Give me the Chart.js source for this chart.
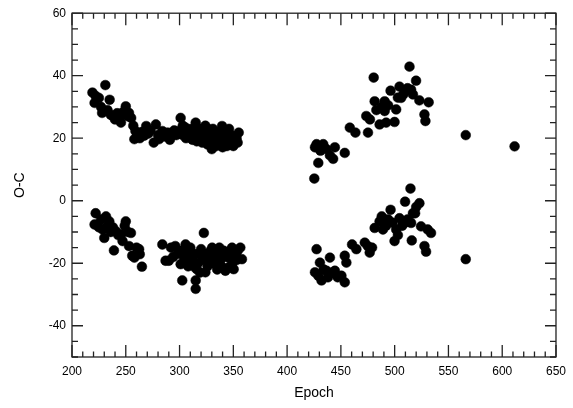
<!DOCTYPE html>
<html>
<head>
<meta charset="utf-8">
<title>O-C</title>
<script src="https://cdn.jsdelivr.net/npm/chart.js@4/dist/chart.umd.min.js"></script>
<style>
    html, body { margin: 0; padding: 0; background: #fff; }
    #wrap { width: 573px; height: 408px; position: relative; }
</style>
</head>
<body>
<div id="wrap"><canvas id="ocChart"></canvas></div>
<script>
// upper branch, first season
var upper1Epoch = [219, 221, 222, 225, 227, 228, 231, 233, 235, 236, 238, 240, 242, 244, 245.5, 248, 250, 252, 253, 255,
    257, 258, 259, 261, 263, 265, 267, 269, 271, 273, 276, 278, 280, 281, 284, 287, 289, 291, 293, 295,
    297, 299, 301, 303, 305.6, 307, 309, 311, 313, 315, 316, 318, 319, 321, 323, 325, 327, 329, 330, 332,
    333, 335, 337, 339.5, 340, 341, 343, 345, 347, 349, 351, 354, 355,
    303, 306, 310, 312, 314, 317, 320, 322, 324, 326, 328, 331, 334, 336, 338, 342, 344, 346, 348, 350, 353];
var upper1OC = [34.6, 31.3, 33.5, 32.9, 30, 28.1, 37, 29, 32.3, 27.5, 27.1, 26, 28, 26.5, 25, 28.5, 30.2, 27, 28.1, 26.5,
    24, 19.7, 22.3, 21, 20, 22, 20.8, 23.9, 21.5, 22.5, 18.6, 24.4, 21, 19.7, 22.3, 20.5, 21.8, 19.5, 20.8, 22.5,
    21, 22.3, 26.5, 24, 23.4, 22, 20.5, 23, 21, 25, 19, 20.8, 23, 18.6, 21.5, 20, 22.8, 19, 16.5, 21,
    19.7, 22, 18, 23.9, 17.1, 20.8, 19, 21.5, 19.7, 18, 20.5, 18.6, 21.8,
    21, 20, 22, 19.5, 23, 22, 21, 19, 24, 18, 21, 23, 17.5, 20, 21, 22, 17.5, 23, 21, 17.5, 20];

// lower branch, first season
var lower1Epoch = [221, 222, 225, 227, 228.5, 230, 231.6, 233, 234.7, 236, 238, 239, 241, 243, 245.5, 247, 249, 250, 252, 253,
    254.8, 256, 258, 260, 262.4, 263, 265, 284, 287, 290, 296, 298, 300, 301, 302.5, 304, 305.6, 307, 309, 311,
    313, 315, 315, 316, 318, 320, 321, 322.6, 324, 325, 327, 329, 330.3, 332, 334, 336, 338, 340, 342.6, 344,
    345.7, 347, 348.8, 350.3, 352, 354, 356.5, 358,
    292, 294, 303, 306, 308, 310, 312, 314, 317, 319, 323, 326, 328, 331, 333, 335, 337, 339, 341, 346, 349, 353];
var lower1OC = [-7.6, -4, -8.5, -6, -9.2, -11.9, -5, -8, -6.6, -10, -8.5, -15.9, -9.8, -11, -10.8, -12.9, -8, -6.6, -10, -14.5,
    -10.3, -17.6, -18.2, -15, -15.5, -17.1, -21.1, -14, -19.2, -19.2, -14.5, -17, -16, -20.3, -25.5, -18, -14, -16.5, -19, -17,
    -21, -25.5, -28.2, -21.9, -17, -15.5, -19, -10.3, -22.9, -17, -19.5, -16, -15, -18, -20, -16.5, -19, -17, -22.4, -18,
    -21.3, -16, -15, -21.9, -18, -16, -15, -18.7,
    -15, -18, -16, -18.5, -21, -15, -19, -17, -20, -23, -17.5, -21, -18, -20, -17, -22, -15, -21, -16, -18, -20, -19];

// upper branch, second season
var upper2Epoch = [425.3, 425.9, 427.4, 429, 431, 433.6, 436.6, 439.8, 442.8, 444.4, 453.6, 458.3, 463.5, 473.6, 475.2, 477, 480.5, 481.4, 483, 486,
    488, 490.7, 490.7, 492.1, 494, 496.2, 499.9, 501.4, 503, 504.5, 506, 508, 510, 512, 513.8, 515.3, 517, 519.9, 523, 527.7,
    528.6, 531.6, 566.1, 611.5];
var upper2OC = [7.1, 17.1, 18.1, 12.1, 16, 18.1, 16.5, 14.5, 13.4, 17.1, 15.3, 23.4, 21.8, 27.1, 21.8, 26, 39.4, 31.8, 29, 24.4,
    30, 31.8, 28.7, 25, 30.5, 35.2, 25.2, 29.2, 33, 36.5, 32.9, 34, 35, 36, 42.9, 35.5, 34, 38.4, 32.1, 27.6,
    25.5, 31.5, 21, 17.4];

// lower branch, second season
var lower2Epoch = [425.9, 427.4, 429, 430.5, 432, 434, 436.6, 438, 439.8, 442, 444.4, 447, 450.5, 453.6, 453.6, 455.1, 460.4, 464.4, 472.2, 475,
    476.8, 479, 481.4, 486, 488, 489.1, 492, 494, 496.2, 498, 499.9, 501.4, 503, 504.5, 507, 509.1, 509.7, 512, 514.7, 515.3,
    515.9, 517, 519, 520, 523, 524.5, 527.7, 529.2, 530.7, 533.8, 566.1];
var lower2OC = [-22.9, -15.5, -24, -19.8, -25.5, -22, -22.4, -24.5, -18.2, -23, -22.4, -24.5, -24, -26.1, -17.6, -19.8, -14, -15.5, -13.4, -14.5,
    -16.6, -15, -8.7, -6.6, -5, -9.2, -8, -6, -2.9, -7, -12.9, -9.2, -11, -5.6, -8, -7.1, -0.3, -6, 3.9, -7.1,
    -12.7, -4, -4, -2, -0.8, -8.2, -14.5, -16.3, -9.2, -10.3, -18.7];

// axis ticks
var xTicks = [200, 250, 300, 350, 400, 450, 500, 550, 600, 650];
var yTicks = [-40, -20, 0, 20, 40, 60];
var xMinorStep = 10;
var yMinorStep = 5;

function toPoints(ep, oc) {
    var pts = [];
    for (var i = 0; i < ep.length; i++) {
        pts.push({x: ep[i], y: oc[i]});
    }
    return pts;
}

var allPoints = toPoints(upper1Epoch, upper1OC)
    .concat(toPoints(lower1Epoch, lower1OC))
    .concat(toPoints(upper2Epoch, upper2OC))
    .concat(toPoints(lower2Epoch, lower2OC));

// box round the plot with inward ticks on all four sides
var frameTicks = {
    id: 'frameTicks',
    afterDraw: function(chart) {
        var ctx = chart.ctx;
        var a = chart.chartArea;
        var xs = chart.scales.x;
        var ys = chart.scales.y;
        var v, px, py, len;

        ctx.save();
        ctx.strokeStyle = '#222';
        ctx.lineWidth = 1.3;
        ctx.strokeRect(a.left, a.top, a.right - a.left, a.bottom - a.top);

        ctx.beginPath();
        for (v = xs.min; v <= xs.max + 0.001; v += xMinorStep) {
            px = xs.getPixelForValue(v);
            len = xTicks.indexOf(v) >= 0 ? 12 : 5.5;
            ctx.moveTo(px, a.bottom); ctx.lineTo(px, a.bottom - len);
            ctx.moveTo(px, a.top); ctx.lineTo(px, a.top + len);
        }
        for (v = ys.min; v <= ys.max + 0.001; v += yMinorStep) {
            py = ys.getPixelForValue(v);
            len = yTicks.indexOf(v) >= 0 ? 11 : 6;
            ctx.moveTo(a.left, py); ctx.lineTo(a.left + len, py);
            ctx.moveTo(a.right, py); ctx.lineTo(a.right - len, py);
        }
        ctx.stroke();
        ctx.restore();
    }
};

var ctx1 = document.getElementById('ocChart');
var ocChart = new Chart(ctx1, {
    type: 'scatter',
    data: {
        datasets: [{
            label: 'O-C',
            data: allPoints,
            backgroundColor: '#000',
            borderColor: '#000',
            borderWidth: 0.5,
            pointRadius: 4.9,
            pointHoverRadius: 4.9
        }]
    },
    options: {
        responsive: true,
        maintainAspectRatio: false,
        animation: false,
        layout: {
            padding: {top: 9, right: 14, bottom: 0, left: 0}
        },
        plugins: {
            legend: { display: false },
            tooltip: { enabled: false }
        },
        scales: {
            x: {
                type: 'linear',
                min: 200,
                max: 650,
                afterBuildTicks: function(scale) {
                    scale.ticks = xTicks.map(function(t) { return {value: t}; });
                },
                afterFit: function(scale) { scale.height = 51; },
                grid: { display: false, drawTicks: false },
                border: { display: false },
                ticks: {
                    color: '#000',
                    padding: 7,
                    maxRotation: 0,
                    font: { family: 'Liberation Sans, Arial, sans-serif', size: 12 }
                },
                title: {
                    display: true,
                    text: 'Epoch',
                    color: '#000',
                    padding: {top: 0, bottom: 6},
                    font: { family: 'Liberation Sans, Arial, sans-serif', size: 14 }
                }
            },
            y: {
                type: 'linear',
                min: -50,
                max: 60,
                afterBuildTicks: function(scale) {
                    scale.ticks = yTicks.map(function(t) { return {value: t}; });
                },
                afterFit: function(scale) { scale.width = 72; },
                grid: { display: false, drawTicks: false },
                border: { display: false },
                ticks: {
                    color: '#000',
                    padding: 6,
                    font: { family: 'Liberation Sans, Arial, sans-serif', size: 12 }
                },
                title: {
                    display: true,
                    text: 'O-C',
                    color: '#000',
                    padding: {top: 12, bottom: 0},
                    font: { family: 'Liberation Sans, Arial, sans-serif', size: 14 }
                }
            }
        }
    },
    plugins: [frameTicks]
});
</script>
</body>
</html>
